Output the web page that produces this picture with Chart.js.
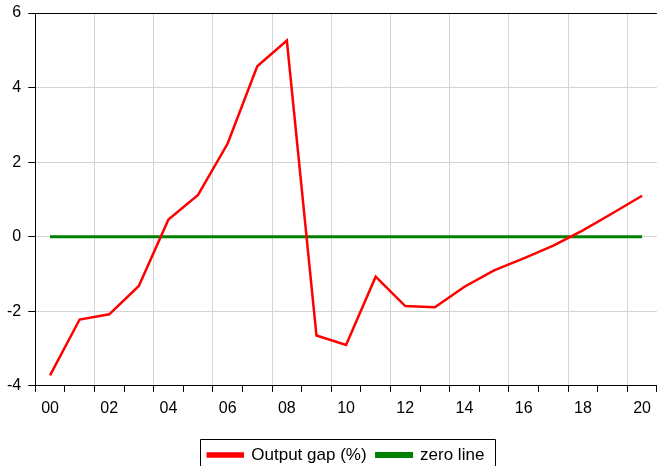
<!DOCTYPE html>
<html lang="en">
<head>
    <meta charset="UTF-8">
    <title>Output gap</title>
    <script src="https://cdn.jsdelivr.net/npm/chart.js"></script>
    <style>
        html, body {
            margin: 0;
            padding: 0;
            background: #ffffff;
        }
        #wrap {
            width: 658px;
            height: 466px;
        }
    </style>
</head>
<body>
    <div id="wrap"><canvas id="grafico"></canvas></div>

    <script>
        // Years 2000-2020, shown as two-digit labels
        const years = ['00', '01', '02', '03', '04', '05', '06', '07', '08', '09', '10',
                       '11', '12', '13', '14', '15', '16', '17', '18', '19', '20'];
        const outputGap = [-3.72, -2.22, -2.08, -1.32, 0.46, 1.12, 2.50, 4.57, 5.26, -2.65, -2.90,
                           -1.07, -1.86, -1.89, -1.34, -0.90, -0.58, -0.24, 0.17, 0.63, 1.10];
        const zeroLine = [0, 0, 0, 0, 0, 0, 0, 0, 0, 0, 0, 0, 0, 0, 0, 0, 0, 0, 0, 0, 0];
        const yTicks = [-4, -2, 0, 2, 4, 6];

        const gridGrey = '#d4d4d4';
        const tickFont = { family: 'Liberation Sans, Arial, sans-serif', size: 16 };
        const legendFont = { family: 'Liberation Sans, Arial, sans-serif', size: 17 };

        // top frame line + box around the legend
        const frame = {
            id: 'frame',
            afterDraw(chart) {
                const c = chart.ctx;
                const a = chart.chartArea;
                c.save();
                c.strokeStyle = '#000';
                c.lineWidth = 1;
                c.beginPath();
                c.moveTo(a.left, a.top + 0.5);
                c.lineTo(a.right, a.top + 0.5);
                c.stroke();

                const hb = chart.legend.legendHitBoxes;
                if (hb && hb.length) {
                    const first = hb[0];
                    const last = hb[hb.length - 1];
                    const l = Math.round(first.left - 8) + 0.5;
                    const r = Math.round(last.left + last.width + 11) + 0.5;
                    const t = Math.round(first.top + first.height / 2 - 16) + 0.5;
                    c.beginPath();
                    c.moveTo(l, chart.height + 5);
                    c.lineTo(l, t);
                    c.lineTo(r, t);
                    c.lineTo(r, chart.height + 5);
                    c.stroke();
                }
                c.restore();
            }
        };

        new Chart(document.getElementById('grafico').getContext('2d'), {
            type: 'line',
            data: {
                labels: years,
                datasets: [
                    { label: 'Output gap (%)', data: outputGap, borderColor: '#ff0000', backgroundColor: '#ff0000', borderWidth: 2.5 },
                    { label: 'zero line', data: zeroLine, borderColor: '#008000', backgroundColor: '#008000', borderWidth: 3 }
                ]
            },
            options: {
                responsive: true,
                maintainAspectRatio: false,
                animation: false,
                layout: { padding: { left: 0, top: 0, right: 0, bottom: -7.5 } },
                elements: {
                    line: { tension: 0 },
                    point: { radius: 0 }
                },
                scales: {
                    x: {
                        type: 'category',
                        offset: true,
                        grid: {
                            offset: true,
                            color: ctx => (ctx.index > 0 && ctx.index % 2 === 0) ? gridGrey : 'rgba(0,0,0,0)',
                            tickColor: '#000',
                            tickLength: 6
                        },
                        border: { color: '#000', width: 1 },
                        ticks: {
                            autoSkip: false,
                            maxRotation: 0,
                            padding: 7,
                            color: '#000',
                            font: tickFont,
                            callback: (v, i) => i % 2 === 0 ? years[i] : ''
                        },
                        // empty title only used as spacing above the legend
                        title: { display: true, text: ' ', font: { size: 2 }, padding: { top: 0, bottom: 9 } }
                    },
                    y: {
                        min: -4,
                        max: 6,
                        afterBuildTicks: axis => { axis.ticks = yTicks.map(v => ({ value: v })); },
                        afterFit: axis => { axis.paddingTop = 13; },
                        grid: {
                            color: ctx => ctx.tick && ctx.tick.value === -4 ? 'rgba(0,0,0,0)' : gridGrey,
                            tickColor: '#000',
                            tickLength: 7
                        },
                        border: { color: '#000', width: 1 },
                        ticks: { padding: 7, color: '#000', font: tickFont }
                    }
                },
                plugins: {
                    legend: {
                        position: 'bottom',
                        fullSize: false,
                        labels: {
                            boxWidth: 35,
                            boxHeight: 3,
                            padding: 10,
                            color: '#000',
                            font: legendFont
                        }
                    },
                    tooltip: { enabled: false }
                }
            },
            plugins: [frame]
        });
    </script>
</body>
</html>
